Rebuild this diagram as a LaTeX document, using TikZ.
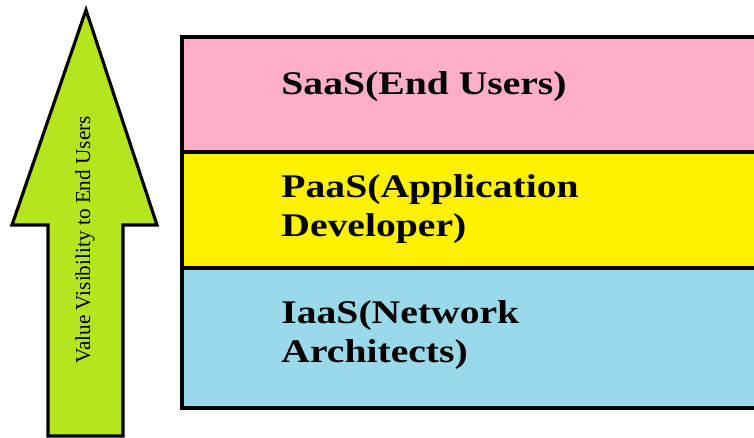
\documentclass[tikz,border=0pt]{standalone}
\usepackage{fontspec}
\setmainfont{Liberation Serif}
\usepackage{xcolor}
\usepackage{tikz}
\definecolor{saaspink}{HTML}{FFAEC9}
\definecolor{paasyellow}{HTML}{FFF200}
\definecolor{iaasblue}{HTML}{99D9EA}
\definecolor{arrowgreen}{HTML}{B5E61D}
\tikzset{
  layer/.style={draw=black, line width=2.2pt},
  layertext/.style={anchor=base west, inner sep=0pt, align=left, xscale=1.2,
    font=\fontsize{18.8pt}{22.7pt}\selectfont\bfseries},
}

\begin{document}
\begin{tikzpicture}[x=0.02cm, y=-0.02cm]
            \useasboundingbox (0,0) rectangle (754,438);
            \clip (0,0) rectangle (754,438);
            % layers
            \draw[layer, fill=saaspink] (182,37) rectangle (800,152);
            \draw[layer, fill=paasyellow] (182,152) rectangle (800,268);
            \draw[layer, fill=iaasblue] (182,268) rectangle (800,408);
            \node[layertext] (saas) at (281,95) {SaaS(End Users)};
            \node[layertext] (paas) at (281,237) {PaaS(Application\\Developer)};
            \node[layertext] (iaas) at (281,363) {IaaS(Network\\Architects)};
            % arrow
            \draw[line width=1.8pt, fill=arrowgreen, line join=miter]
              (86,10) -- (157,225) -- (123,225) -- (123,436) -- (48,436)
              -- (48,225) -- (12,225) -- cycle;
            \node[rotate=90, inner sep=0pt, font=\fontsize{12.1pt}{14pt}\selectfont] (visibility) at (85,240) {Value Visibility to End Users};
        \end{tikzpicture}
\end{document}
